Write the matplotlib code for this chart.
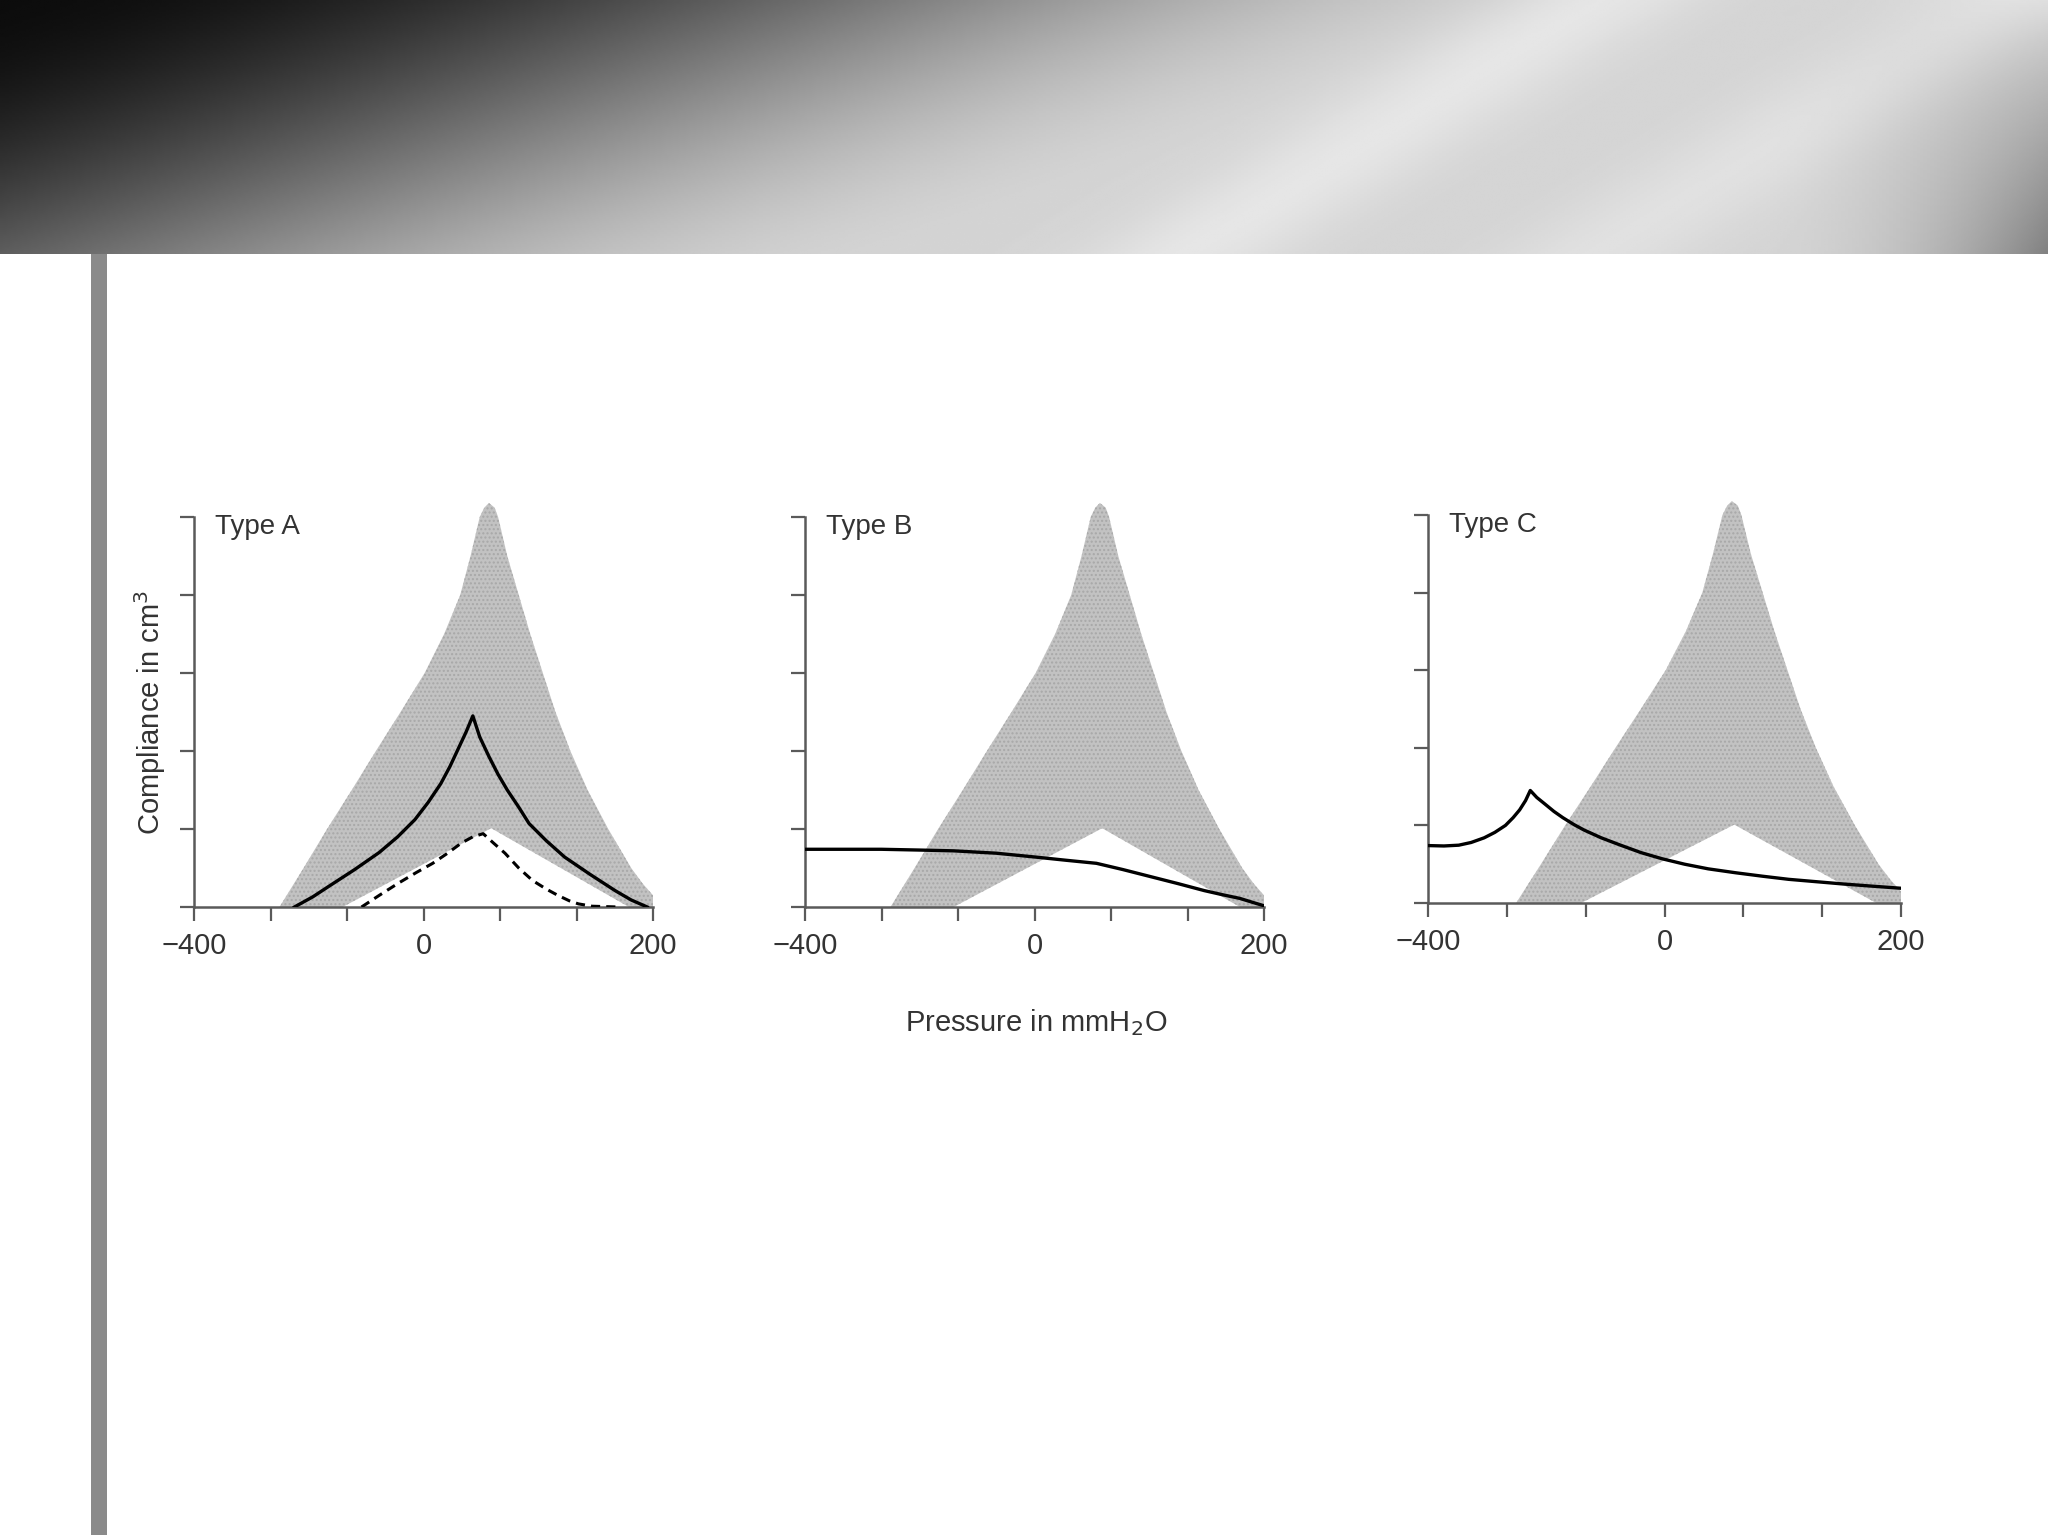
import numpy as np
import matplotlib
matplotlib.use('Agg')
import matplotlib.pyplot as plt
from matplotlib.patches import Rectangle

plt.rcParams['font.family'] = ['Liberation Sans', 'DejaVu Sans']

# normal compliance region (shaded), pressure in mmH2O, compliance in tick units
normal_outer_p = [-251, -209, -168, -125, -83, -40, 1, 18, 32, 41, 49, 53, 57, 62, 65,
                  73, 83, 93, 104, 115, 128, 143, 161, 181, 191, 200, 200]
normal_outer_c = [0.0, 0.5, 1.0, 1.5, 2.0, 2.5, 3.0, 3.5, 4.0, 4.5, 5.0, 5.12, 5.18, 5.12, 5.0,
                  4.5, 4.0, 3.5, 3.0, 2.5, 2.0, 1.5, 1.0, 0.5, 0.3, 0.15, 0.0]
normal_inner_p = [179, 59, 0, -141]
normal_inner_c = [0.0, 1.01, 0.55, 0.0]

# type A (solid) and type As (dashed)
typeA_p = [-225, -193, -164, -120, -77, -45, -15, 4, 15, 23, 30, 37, 43,
           49, 57, 65, 73, 83, 92, 107, 123, 145, 167, 181, 195]
typeA_c = [0.0, 0.13, 0.27, 0.48, 0.70, 0.90, 1.12, 1.34, 1.58, 1.80, 2.02, 2.24, 2.45,
           2.18, 1.93, 1.70, 1.50, 1.28, 1.07, 0.85, 0.64, 0.42, 0.21, 0.09, 0.0]
typeAs_p = [-108, -77, -45, -13, 8, 21, 33, 43, 52, 61, 71, 83, 95, 107, 117, 127, 135, 147, 170]
typeAs_c = [0.0, 0.15, 0.30, 0.44, 0.56, 0.69, 0.82, 0.90, 0.94, 0.82, 0.69, 0.50, 0.34, 0.23,
            0.15, 0.08, 0.04, 0.01, 0.0]

# type B (flat)
typeB_p = [-400, -333, -267, -200, -141, -67, 1, 27, 54, 77, 101, 125, 148, 163, 179, 190, 199]
typeB_c = [0.74, 0.74, 0.74, 0.73, 0.72, 0.69, 0.64, 0.60, 0.56, 0.48, 0.39, 0.30, 0.21, 0.16,
           0.11, 0.06, 0.02]

# type C (negative pressure peak)
typeC_p = [-400, -373, -348, -327, -305, -287, -269, -256, -245, -235, -227, -216, -203, -187,
           -172, -153, -136, -107, -76, -40, -4, 17, 37, 60, 83, 105, 128, 151, 173, 200]
typeC_c = [0.74, 0.735, 0.745, 0.78, 0.84, 0.91, 1.0, 1.1, 1.2, 1.32, 1.45, 1.36, 1.28, 1.18,
           1.10, 1.01, 0.94, 0.84, 0.75, 0.65, 0.57, 0.50, 0.44, 0.39, 0.345, 0.305, 0.275,
           0.245, 0.22, 0.19]

xticks = [-400, -800 / 3, -400 / 3, 0, 200 / 3, 400 / 3, 200]
xticklabels = ['\u2212400', '', '', '0', '', '', '200']
yticks = [0, 1, 2, 3, 4, 5]


# the axis puts 0 in the middle: -400..0 and 0..200 get the same width
def fwd(x):
    x = np.asarray(x, dtype=float)
    return np.where(x < 0, x * 3 / 400, x * 3 / 200)


def inv(u):
    u = np.asarray(u, dtype=float)
    return np.where(u < 0, u * 400 / 3, u * 200 / 3)


W, H = 2048, 1535
fig = plt.figure(figsize=(W / 100, H / 100), dpi=100)
fig.patch.set_facecolor('white')

# header band with gray gradient
band_h = 254
hx = np.linspace(0, 1, 600)
hy = np.linspace(0, 1, 120)
X, Y = np.meshgrid(hx, hy)
d = np.clip((X + 0.35 * Y) / 0.8, 0, 1)
g = 0.05 + 0.78 * (3 * d ** 2 - 2 * d ** 3)
g += 0.07 * np.exp(-((X - (0.58 + 0.2 * (1 - Y))) / 0.05) ** 2)
g += 0.05 * np.exp(-((X - (0.78 + 0.2 * (1 - Y))) / 0.05) ** 2)
g -= 0.32 * np.clip((X - 0.86) / 0.14, 0, 1) ** 2 * Y
g = np.clip(g, 0, 1)
hax = fig.add_axes([0, 1 - band_h / H, 1, band_h / H])
hax.imshow(g, cmap='gray', vmin=0, vmax=1, aspect='auto', interpolation='bilinear')
hax.axis('off')

# left vertical bar
fig.add_artist(Rectangle((91 / W, 0), 16 / W, 1 - band_h / H, transform=fig.transFigure,
                         facecolor='#8a8a8a', edgecolor='none'))

panels = [
    # left px, right px, y0 px, y5 px, title
    (194, 653, 907, 517, 'Type A'),
    (805, 1264, 907, 517, 'Type B'),
    (1428, 1901, 903, 515, 'Type C'),
]
ytop = 5.3
axes = []
for left, right, y0, y5, title in panels:
    unit = (y0 - y5) / 5.0
    ax = fig.add_axes([left / W, 1 - y0 / H, (right - left) / W, ytop * unit / H])
    ax.set_xscale('function', functions=(fwd, inv))
    ax.set_xlim(-400, 200)
    ax.set_ylim(0, ytop)
    ax.fill(normal_outer_p + normal_inner_p, normal_outer_c + normal_inner_c,
            facecolor='#c2c2c2', edgecolor='#a8a8a8', hatch='....', linewidth=0, zorder=1)
    for s in ['top', 'right']:
        ax.spines[s].set_visible(False)
    for s in ['left', 'bottom']:
        ax.spines[s].set_color('#5a5a5a')
        ax.spines[s].set_linewidth(1.8)
    ax.spines['left'].set_bounds(0, 5)
    ax.set_xticks(xticks)
    ax.set_xticklabels(xticklabels)
    ax.xaxis.set_minor_locator(matplotlib.ticker.NullLocator())
    ax.set_yticks(yticks)
    ax.set_yticklabels([])
    ax.tick_params(axis='both', direction='out', length=10, width=1.6, color='#5a5a5a',
                   labelsize=21, labelcolor='#333333', pad=8)
    ax.text(0.045, 4.87 / ytop, title, transform=ax.transAxes, fontsize=20,
            color='#333333', va='center', ha='left')
    ax.patch.set_alpha(0)
    axes.append(ax)

axA, axB, axC = axes
axA.plot(typeA_p, typeA_c, color='black', lw=2.4, zorder=3)
axA.plot(typeAs_p, typeAs_c, color='black', lw=2.2, linestyle=(0, (3, 2)), zorder=3)
axB.plot(typeB_p, typeB_c, color='black', lw=2.4, zorder=3)
axC.plot(typeC_p, typeC_c, color='black', lw=2.4, zorder=3)

fig.text(150 / W, 1 - 712 / H, 'Compliance in cm$^3$', rotation=90, fontsize=21,
         color='#333333', ha='center', va='center')
fig.text(1036 / W, 1 - 1023 / H, 'Pressure in mmH$_2$O', fontsize=21,
         color='#333333', ha='center', va='center')

fig.savefig('out.png', dpi=100)
